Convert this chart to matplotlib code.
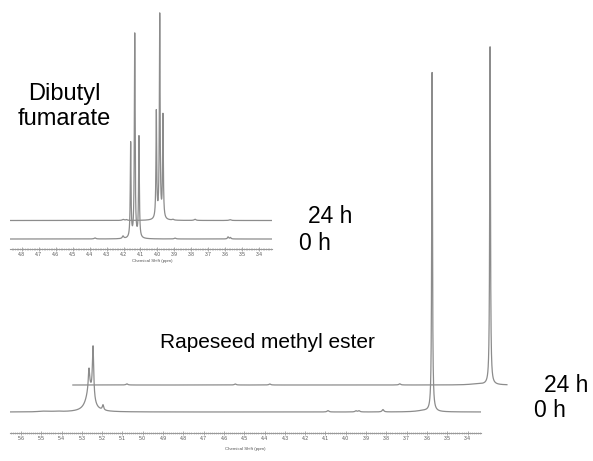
import numpy as np
import matplotlib
matplotlib.use("Agg")
import matplotlib.pyplot as plt
from matplotlib import transforms
from matplotlib.ticker import MultipleLocator, FormatStrFormatter

plt.rcParams["font.family"] = ["Liberation Sans", "DejaVu Sans"]

W, H = 593, 461

# --- Dibutyl fumarate (inset), peaks as (ppm, height, half-width) ---
dbf_0h_ppm = [4.158, 4.134, 4.109, 4.368, 4.203, 3.896, 3.584, 3.570]
dbf_0h_int = [46.0, 99.0, 49.0, 0.5, 1.2, 0.4, 1.0, 0.7]
dbf_0h_hw = [0.0026, 0.0026, 0.0026, 0.006, 0.005, 0.006, 0.004, 0.004]
dbf_24h_ppm = [4.154, 4.134, 4.115, 4.350, 4.330, 4.056, 3.926, 3.720]
dbf_24h_int = [52.0, 99.0, 50.0, 0.5, 0.4, 0.4, 0.6, 0.4]
dbf_24h_hw = [0.0026, 0.0026, 0.0026, 0.006, 0.006, 0.006, 0.006, 0.006]

# --- Rapeseed methyl ester ---
rme_0h_ppm = [3.575, 5.245, 5.265, 5.262, 5.196, 5.50, 5.47, 5.42, 4.088, 3.950, 3.935, 3.817, 3.62]
rme_0h_int = [100.0, 15.5, 6.0, 6.5, 1.5, 0.15, 0.15, 0.15, 0.4, 0.35, 0.35, 0.7, 0.35]
rme_0h_hw = [0.0022, 0.004, 0.004, 0.02, 0.004, 0.02, 0.02, 0.02, 0.005, 0.005, 0.005, 0.005, 0.04]
rme_24h_ppm = [3.575, 5.364, 4.830, 4.660, 4.020, 3.64]
rme_24h_int = [99.7, 0.35, 0.3, 0.3, 0.35, 0.3]
rme_24h_hw = [0.0022, 0.005, 0.005, 0.005, 0.005, 0.04]

dbf_range_0h = (4.869, 3.325)
dbf_range_24h = (5.02, 3.47)
rme_range_0h = (5.654, 3.334)
rme_range_24h = (5.63, 3.492)


def spectrum(rng, ppm, inten, hw, n=30000):
    x = np.linspace(rng[0], rng[1], n)
    y = np.zeros_like(x)
    for p, h, g in zip(ppm, inten, hw):
        y += h * g**2 / ((x - p) ** 2 + g**2)
    return x, y


def px_axes(fig, x0, x1, ytop, ybot):
    return fig.add_axes([x0 / W, 1 - ybot / H, (x1 - x0) / W, (ybot - ytop) / H])


def style_axis(ax, xlim, ylim):
    ax.set_xlim(*xlim)
    ax.set_ylim(*ylim)
    for s in ("left", "top", "right"):
        ax.spines[s].set_visible(False)
    ax.spines["bottom"].set_color("#9a9a9a")
    ax.spines["bottom"].set_linewidth(0.8)
    ax.set_yticks([])
    ax.xaxis.set_major_locator(MultipleLocator(0.1))
    ax.xaxis.set_minor_locator(MultipleLocator(0.01))
    ax.xaxis.set_major_formatter(FormatStrFormatter("%.1f"))
    ax.tick_params(axis="x", which="major", direction="inout", length=3, width=0.5,
                   color="#8a8a8a", labelsize=3.6, labelcolor="#555555", pad=1)
    ax.tick_params(axis="x", which="minor", direction="inout", length=2, width=0.4,
                   color="#9a9a9a")
    ax.set_xlabel("Chemical Shift (ppm)", fontsize=3.2, color="#555555")
    ax.patch.set_alpha(0)


fig = plt.figure(figsize=(W / 100, H / 100), dpi=100)
line_kw = dict(color="#8c8c8c", lw=0.9)

# bottom: rapeseed methyl ester
axb = px_axes(fig, 10, 481, 40, 433)
style_axis(axb, rme_range_0h, (-21 / 3.39, 372 / 3.39))
axb.xaxis.set_label_coords(0.5, -0.036)
x, y = spectrum(rme_range_0h, rme_0h_ppm, rme_0h_int, rme_0h_hw)
axb.plot(x, y, **line_kw)
x, y = spectrum(rme_range_24h, rme_24h_ppm, rme_24h_int, rme_24h_hw)
off = transforms.offset_copy(axb.transData, fig=fig, x=58, y=27, units="dots")
axb.plot(x, y, transform=off, clip_on=False, **line_kw)

# top: dibutyl fumarate
axt = px_axes(fig, 10, 272, 5, 249)
style_axis(axt, dbf_range_0h, (-10 / 2.06, 234 / 2.06))
axt.xaxis.set_label_coords(0.542, -0.042)
x, y = spectrum(dbf_range_0h, dbf_0h_ppm, dbf_0h_int, dbf_0h_hw)
axt.plot(x, y, **line_kw)
x, y = spectrum(dbf_range_24h, dbf_24h_ppm, dbf_24h_int, dbf_24h_hw)
off = transforms.offset_copy(axt.transData, fig=fig, x=25, y=18.5, units="dots")
axt.plot(x, y, transform=off, **line_kw)


def ftext(x, y, s, size=15, **kw):
    fig.text(x / W, 1 - y / H, s, fontsize=size, color="black", va="baseline", **kw)


ftext(64.5, 100, "Dibutyl", size=17, ha="center")
ftext(64, 125, "fumarate", size=17, ha="center")
ftext(308, 223, "24 h", size=16.5, ha="left")
ftext(299, 250, "0 h", size=16.5, ha="left")
ftext(160, 348, "Rapeseed methyl ester", size=15, ha="left")
ftext(544, 392, "24 h", size=16.5, ha="left")
ftext(534, 417, "0 h", size=16.5, ha="left")

fig.savefig("out.png", dpi=100)
